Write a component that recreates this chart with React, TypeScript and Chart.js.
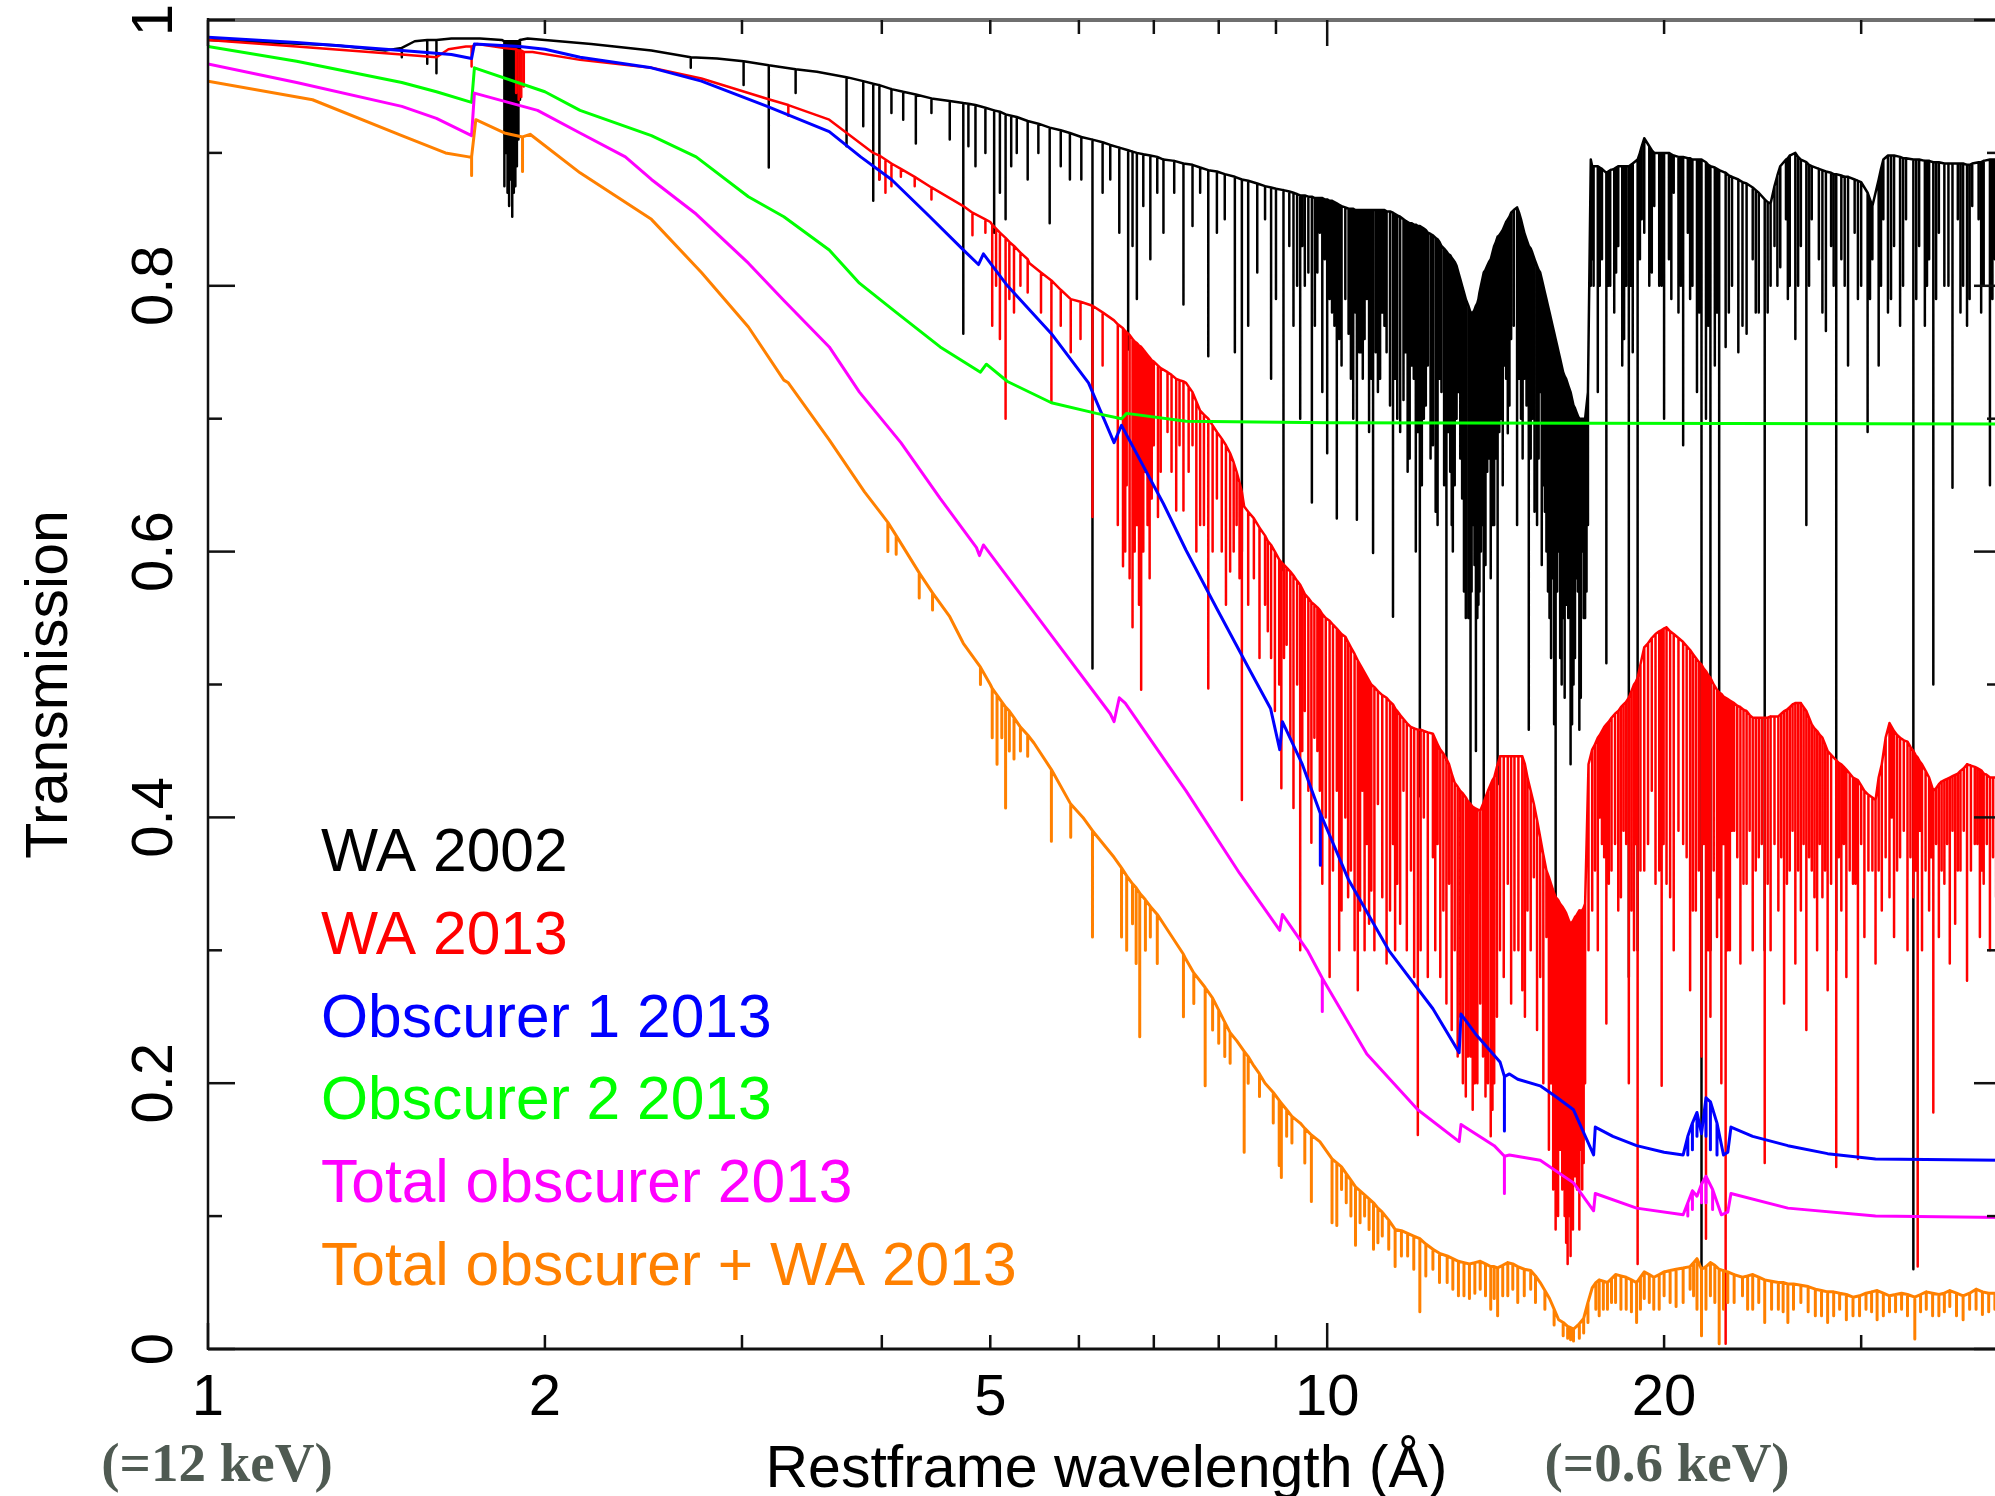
import React, { useEffect, useRef } from "react";
import { Chart, registerables } from "chart.js";

Chart.register(...registerables);

// ---- Axis ticks / labels ----
const xLabelTicks = [1, 2, 5, 10, 20];
const xMajorTicks = [1, 10];
const xMinorTicks = [2, 3, 4, 5, 6, 7, 8, 9, 20, 30, 40];
const yMajorTicks = [0, 0.2, 0.4, 0.6, 0.8, 1];
const yTickLabels = ["0", "0.2", "0.4", "0.6", "0.8", "1"];
const yMinorTicks = [0.1, 0.3, 0.5, 0.7, 0.9];
const xTitle = "Restframe wavelength (Å)";
const yTitle = "Transmission";
const leftNote = "(=12 keV)";
const rightNote = "(=0.6 keV)";
const rightNoteAt = 20;

const seriesNames = [
  "WA 2002",
  "WA 2013",
  "Obscurer 1 2013",
  "Obscurer 2 2013",
  "Total obscurer 2013",
  "Total obscurer + WA 2013",
];
const seriesColors = ["#000000", "#ff0000", "#0000ff", "#00ff00", "#ff00ff", "#ff8000"];
const seriesWidths = [2.5, 2.5, 3, 3, 3, 3];

// rows: [wavelength, transmission] or [wavelength, continuum, absorption-line bottom]
const wa2002 = [
  [1.0, 0.985], [1.3, 0.981], [1.44, 0.977], [1.49, 0.979, 0.972], [1.53, 0.984], [1.57, 0.985, 0.967],
  [1.6, 0.985, 0.96], [1.65, 0.986], [1.75, 0.986], [1.83, 0.985],
  [1.84, 0.984, 0.875], [1.846, 0.984, 0.9], [1.852, 0.984, 0.87], [1.858, 0.984, 0.86], [1.864, 0.984, 0.88],
  [1.87, 0.984, 0.852], [1.876, 0.984, 0.87], [1.882, 0.984, 0.875], [1.888, 0.984, 0.89], [1.894, 0.984, 0.91],
  [1.9, 0.985, 0.94], [1.93, 0.986], [2.0, 0.985], [2.2, 0.982], [2.49, 0.977], [2.7, 0.972, 0.964], [2.85, 0.971],
  [3.01, 0.969, 0.951], [3.17, 0.966, 0.889], [3.35, 0.963, 0.945], [3.5, 0.961], [3.72, 0.957, 0.905],
  [3.85, 0.954, 0.92], [3.93, 0.952, 0.864], [3.98, 0.951, 0.88], [4.08, 0.948, 0.93], [4.18, 0.946, 0.925],
  [4.29, 0.944, 0.907], [4.43, 0.941, 0.93], [4.6, 0.939, 0.91], [4.73, 0.9375, 0.764], [4.78, 0.937, 0.905],
  [4.85, 0.936, 0.89], [4.95, 0.934, 0.9], [5.04, 0.932, 0.84], [5.1, 0.931, 0.87], [5.16, 0.929, 0.85],
  [5.22, 0.928, 0.89], [5.28, 0.927, 0.9], [5.4, 0.924, 0.88], [5.52, 0.922, 0.9], [5.65, 0.919, 0.847],
  [5.78, 0.917, 0.89], [5.89, 0.915, 0.88], [6.03, 0.912, 0.88], [6.17, 0.91, 0.512], [6.3, 0.908, 0.87],
  [6.4, 0.906, 0.88], [6.52, 0.904, 0.84], [6.64, 0.902, 0.752], [6.7, 0.901, 0.83], [6.76, 0.9, 0.79],
  [6.85, 0.899, 0.86], [6.95, 0.898, 0.82], [7.05, 0.897, 0.87], [7.14, 0.895, 0.84], [7.3, 0.894, 0.87],
  [7.44, 0.892, 0.786], [7.58, 0.891, 0.845], [7.7, 0.889, 0.87], [7.83, 0.887, 0.747], [7.97, 0.886, 0.84],
  [8.1, 0.884, 0.85], [8.27, 0.882, 0.75], [8.39, 0.88, 0.6], [8.5, 0.879, 0.77], [8.66, 0.877, 0.81],
  [8.8, 0.875, 0.85], [8.91, 0.874, 0.73], [9.0, 0.873, 0.79], [9.14, 0.872, 0.586], [9.25, 0.871, 0.83],
  [9.33, 0.87, 0.77], [9.4, 0.869, 0.8],
  [9.46, 0.868, 0.7], [9.55, 0.868, 0.8], [9.69, 0.867, 0.637], [9.8, 0.866, 0.81], [9.9, 0.866, 0.72],
  [10.0, 0.865, 0.674], [10.1, 0.864, 0.78], [10.2, 0.862, 0.625], [10.3, 0.86, 0.74], [10.45, 0.858, 0.764],
  [10.55, 0.858, 0.7], [10.63, 0.857, 0.624], [10.72, 0.857, 0.75], [10.8, 0.857, 0.76], [10.9, 0.857, 0.69],
  [10.99, 0.857, 0.599], [11.1, 0.857, 0.72], [11.2, 0.857, 0.78], [11.3, 0.856, 0.75], [11.45, 0.855, 0.551],
  [11.55, 0.853, 0.7], [11.7, 0.85, 0.714], [11.8, 0.848, 0.66], [11.9, 0.847, 0.74], [12.0, 0.846, 0.6],
  [12.1, 0.845, 0.416], [12.2, 0.843, 0.7], [12.3, 0.84, 0.74], [12.43, 0.838, 0.68], [12.55, 0.835, 0.62],
  [12.65, 0.83, 0.72], [12.78, 0.826, 0.443], [12.88, 0.823, 0.66], [12.95, 0.82, 0.6], [13.05, 0.815, 0.7],
  [13.1, 0.81, 0.72], [13.2, 0.8, 0.64], [13.3, 0.79, 0.55], [13.43, 0.78, 0.343], [13.5, 0.78, 0.62],
  [13.58, 0.785, 0.45], [13.65, 0.79, 0.56], [13.72, 0.8, 0.6], [13.8, 0.81, 0.405], [13.9, 0.815, 0.66],
  [14.0, 0.82, 0.58], [14.1, 0.83, 0.62], [14.2, 0.837, 0.425], [14.3, 0.84, 0.7], [14.4, 0.845, 0.74],
  [14.5, 0.85, 0.689], [14.6, 0.855, 0.76], [14.78, 0.859, 0.62], [14.9, 0.85, 0.7], [15.0, 0.84, 0.73],
  [15.14, 0.83, 0.466], [15.25, 0.825, 0.7], [15.4, 0.815, 0.62], [15.5, 0.81, 0.72], [15.6, 0.8, 0.65],
  [15.7, 0.79, 0.6], [15.8, 0.78, 0.55], [15.9, 0.77, 0.58], [16.0, 0.76, 0.2], [16.1, 0.75, 0.6],
  [16.2, 0.74, 0.5], [16.25, 0.735, 0.55], [16.35, 0.73, 0.56], [16.5, 0.72, 0.44], [16.6, 0.71, 0.5],
  [16.7, 0.705, 0.58], [16.8, 0.7, 0.466], [16.9, 0.7, 0.6], [17.0, 0.7, 0.55], [17.1, 0.72, 0.62],
  [17.2, 0.895, 0.8], [17.3, 0.89, 0.8], [17.45, 0.89, 0.72], [17.6, 0.888, 0.82], [17.76, 0.885, 0.516],
  [17.9, 0.887, 0.8], [18.05, 0.888, 0.78], [18.2, 0.89, 0.83], [18.35, 0.89, 0.74], [18.5, 0.89, 0.8],
  [18.6, 0.89, 0.28], [18.75, 0.892, 0.75], [18.94, 0.895, 0.3], [19.1, 0.905, 0.85], [19.2, 0.911, 0.84],
  [19.4, 0.905, 0.8], [19.6, 0.9, 0.86], [19.8, 0.9, 0.8], [20.0, 0.9, 0.7], [20.2, 0.9, 0.82],
  [20.4, 0.898, 0.87], [20.6, 0.897, 0.78], [20.8, 0.897, 0.68], [21.0, 0.896, 0.84], [21.2, 0.895, 0.8],
  [21.4, 0.895, 0.72], [21.6, 0.895, 0.05], [21.8, 0.893, 0.7], [22.0, 0.89, 0.3], [22.2, 0.889, 0.74],
  [22.4, 0.887, 0.35], [22.7, 0.885, 0.754], [23.0, 0.882, 0.8], [23.3, 0.88, 0.75], [23.7, 0.877, 0.764],
  [24.0, 0.874, 0.82], [24.3, 0.87, 0.78], [24.6, 0.865, 0.3], [24.9, 0.862, 0.8], [25.1, 0.875, 0.83],
  [25.4, 0.89, 0.814], [25.7, 0.895, 0.85], [25.9, 0.898, 0.8], [26.2, 0.9, 0.76], [26.5, 0.895, 0.83],
  [26.8, 0.893, 0.62], [27.1, 0.89, 0.85], [27.5, 0.888, 0.82], [27.9, 0.886, 0.766], [28.2, 0.885, 0.83],
  [28.5, 0.884, 0.3], [28.8, 0.883, 0.82], [29.2, 0.882, 0.74], [29.6, 0.88, 0.84], [30.0, 0.878, 0.8],
  [30.4, 0.87, 0.69], [30.7, 0.86, 0.82], [31.1, 0.88, 0.74], [31.4, 0.895, 0.85], [31.7, 0.898, 0.78],
  [32.1, 0.898, 0.83], [32.5, 0.897, 0.77], [32.9, 0.896, 0.85], [33.4, 0.895, 0.06], [33.8, 0.895, 0.83],
  [34.2, 0.894, 0.77], [34.5, 0.894, 0.82], [34.8, 0.893, 0.5], [35.2, 0.893, 0.84], [35.6, 0.892, 0.8],
  [36.2, 0.892, 0.648], [36.6, 0.892, 0.85], [37.0, 0.892, 0.8], [37.3, 0.891, 0.77], [37.7, 0.892, 0.86],
  [38.2, 0.893, 0.85], [38.6, 0.894, 0.8], [39.1, 0.895, 0.65], [39.5, 0.895, 0.82], [40.0, 0.895],
];

// weaker WA 2002 lines filling the forest between the strong ones
const wa2002Weak = [
  [9.5, 0.868, 0.83], [9.62, 0.867, 0.81], [9.75, 0.866, 0.77], [9.85, 0.866, 0.84], [9.95, 0.865, 0.82],
  [10.05, 0.864, 0.79], [10.15, 0.863, 0.77], [10.25, 0.861, 0.76], [10.38, 0.859, 0.79], [10.5, 0.858, 0.73],
  [10.6, 0.857, 0.78], [10.68, 0.857, 0.75], [10.76, 0.857, 0.73], [10.85, 0.857, 0.79], [10.95, 0.857, 0.73],
  [11.05, 0.857, 0.75], [11.15, 0.857, 0.73], [11.25, 0.857, 0.77], [11.38, 0.856, 0.71], [11.5, 0.854, 0.73],
  [11.62, 0.852, 0.69], [11.75, 0.849, 0.75], [11.85, 0.847, 0.67], [11.95, 0.846, 0.73], [12.05, 0.845, 0.69],
  [12.15, 0.844, 0.65], [12.25, 0.842, 0.71], [12.37, 0.839, 0.67], [12.5, 0.836, 0.63], [12.6, 0.833, 0.73],
  [12.72, 0.828, 0.65], [12.83, 0.824, 0.69], [12.92, 0.821, 0.62], [13.0, 0.818, 0.65], [13.15, 0.805, 0.67],
  [13.25, 0.795, 0.57], [13.37, 0.785, 0.55], [13.46, 0.78, 0.57], [13.54, 0.782, 0.59], [13.62, 0.787, 0.55],
  [13.68, 0.795, 0.57], [13.76, 0.805, 0.62], [13.85, 0.812, 0.59], [13.95, 0.818, 0.67], [14.05, 0.825, 0.62],
  [14.15, 0.833, 0.67], [14.25, 0.838, 0.69], [14.35, 0.842, 0.65], [14.45, 0.848, 0.73], [14.55, 0.852, 0.71],
  [14.68, 0.857, 0.77], [14.84, 0.855, 0.73], [14.95, 0.845, 0.67], [15.07, 0.835, 0.71], [15.2, 0.828, 0.67],
  [15.32, 0.82, 0.63], [15.45, 0.812, 0.67], [15.55, 0.805, 0.59], [15.65, 0.795, 0.63], [15.75, 0.785, 0.57],
  [15.85, 0.775, 0.52], [15.95, 0.765, 0.47], [16.05, 0.755, 0.57], [16.15, 0.745, 0.52], [16.3, 0.732, 0.49],
  [16.42, 0.725, 0.55], [16.55, 0.715, 0.47], [16.65, 0.708, 0.52], [16.75, 0.702, 0.57], [16.85, 0.7, 0.49],
  [16.95, 0.7, 0.55], [17.05, 0.71, 0.57],
  [17.25, 0.89, 0.82], [17.52, 0.889, 0.8], [17.83, 0.886, 0.8], [18.12, 0.889, 0.81], [18.42, 0.89, 0.76],
  [18.68, 0.891, 0.8], [19.03, 0.9, 0.82], [19.5, 0.902, 0.81], [19.9, 0.9, 0.8], [20.3, 0.899, 0.79],
  [20.7, 0.897, 0.8], [21.1, 0.896, 0.79], [21.5, 0.895, 0.78], [21.9, 0.891, 0.77], [22.3, 0.888, 0.78],
  [22.85, 0.883, 0.78], [23.5, 0.878, 0.77], [24.15, 0.872, 0.78], [24.75, 0.863, 0.78], [25.25, 0.883, 0.8],
  [25.8, 0.896, 0.79], [26.35, 0.897, 0.8], [26.95, 0.891, 0.8], [27.7, 0.887, 0.78], [28.35, 0.884, 0.8],
  [29.0, 0.882, 0.8], [29.8, 0.879, 0.79], [30.55, 0.865, 0.79], [31.25, 0.888, 0.8], [31.9, 0.898, 0.79],
  [32.7, 0.896, 0.8], [33.6, 0.895, 0.79], [34.35, 0.894, 0.8], [35.0, 0.893, 0.79], [35.9, 0.892, 0.8],
  [36.8, 0.892, 0.78], [37.5, 0.891, 0.79], [38.4, 0.893, 0.78], [39.3, 0.895, 0.79],
];

const wa2013 = [
  [1.0, 0.985], [1.2, 0.98], [1.49, 0.974], [1.6, 0.972], [1.64, 0.978], [1.7, 0.98], [1.72, 0.98, 0.965],
  [1.74, 0.982], [1.84, 0.979], [1.885, 0.978, 0.945], [1.895, 0.977, 0.94], [1.905, 0.977, 0.942],
  [1.915, 0.976, 0.95], [1.95, 0.976], [2.15, 0.97], [2.49, 0.964], [2.76, 0.956], [3.18, 0.94],
  [3.3, 0.936, 0.928], [3.59, 0.925], [3.93, 0.9], [3.98, 0.898, 0.88], [4.03, 0.895, 0.87],
  [4.08, 0.892, 0.875], [4.16, 0.888, 0.882], [4.28, 0.882, 0.875], [4.43, 0.874, 0.865], [4.73, 0.86],
  [4.82, 0.855, 0.838], [4.95, 0.85, 0.84], [5.0, 0.848], [5.02, 0.846, 0.77], [5.06, 0.843, 0.8],
  [5.1, 0.84, 0.76], [5.16, 0.836, 0.7], [5.2, 0.833, 0.79], [5.25, 0.83, 0.78], [5.32, 0.825, 0.8],
  [5.4, 0.82, 0.795], [5.42, 0.817], [5.67, 0.804, 0.712], [5.9, 0.79, 0.75], [6.17, 0.785, 0.626],
  [6.45, 0.774], [6.57, 0.768, 0.589], [6.62, 0.765, 0.65], [6.7, 0.76, 0.543], [6.76, 0.757, 0.62],
  [6.82, 0.754, 0.496], [6.88, 0.75, 0.66], [6.94, 0.746, 0.58], [7.0, 0.743, 0.68], [7.06, 0.74, 0.626],
  [7.2, 0.735, 0.69], [7.33, 0.73, 0.631], [7.44, 0.728, 0.631], [7.48, 0.727], [7.58, 0.72, 0.68],
  [7.7, 0.706, 0.62], [7.83, 0.7, 0.497], [7.97, 0.69, 0.64], [8.19, 0.674, 0.585], [8.3, 0.66, 0.62],
  [8.39, 0.645, 0.413], [8.43, 0.634], [8.6, 0.625, 0.58], [8.8, 0.612, 0.56], [8.91, 0.605, 0.52],
  [9.06, 0.594, 0.5], [9.1, 0.592, 0.422], [9.2, 0.588, 0.53], [9.33, 0.582, 0.407], [9.46, 0.575, 0.3],
  [9.55, 0.568, 0.48], [9.68, 0.562, 0.381], [9.8, 0.558, 0.45], [9.9, 0.553, 0.35], [9.97, 0.55, 0.4],
  [10.05, 0.548, 0.28], [10.2, 0.542, 0.42], [10.3, 0.538, 0.33], [10.38, 0.536, 0.4], [10.5, 0.528, 0.36],
  [10.65, 0.518, 0.27], [10.75, 0.512, 0.42], [10.85, 0.506, 0.38], [10.95, 0.5, 0.345], [11.1, 0.495, 0.41],
  [11.3, 0.49, 0.29], [11.45, 0.485, 0.38], [11.55, 0.48, 0.35], [11.7, 0.474, 0.42], [11.88, 0.468, 0.36],
  [12.05, 0.466, 0.161], [12.2, 0.465, 0.4], [12.43, 0.463, 0.37], [12.55, 0.455, 0.38], [12.7, 0.448, 0.33],
  [12.85, 0.44, 0.35], [13.0, 0.426, 0.3], [13.15, 0.42, 0.25], [13.3, 0.415, 0.19], [13.43, 0.41, 0.22],
  [13.55, 0.407, 0.2], [13.7, 0.405, 0.26], [13.85, 0.415, 0.19], [14.0, 0.425, 0.16], [14.1, 0.43, 0.2],
  [14.27, 0.446, 0.3], [14.5, 0.446, 0.35], [14.7, 0.446, 0.3], [14.94, 0.446, 0.27], [15.1, 0.43, 0.33],
  [15.3, 0.41, 0.355], [15.5, 0.385, 0.28], [15.7, 0.36, 0.31], [15.85, 0.35, 0.2], [16.0, 0.34, 0.09],
  [16.15, 0.335, 0.15], [16.3, 0.33, 0.1], [16.4, 0.325, 0.064], [16.5, 0.32, 0.07], [16.65, 0.325, 0.13],
  [16.8, 0.33, 0.09], [16.9, 0.33, 0.12], [17.0, 0.335, 0.2], [17.25, 0.451, 0.33], [17.45, 0.46, 0.3],
  [17.6, 0.465, 0.38], [17.76, 0.47, 0.245], [17.95, 0.475, 0.36], [18.2, 0.48, 0.33], [18.4, 0.485, 0.39],
  [18.6, 0.49, 0.2], [18.8, 0.5, 0.3], [18.94, 0.505, 0.064], [19.2, 0.528, 0.36], [19.5, 0.535, 0.42],
  [19.8, 0.54, 0.36], [19.9, 0.541, 0.198], [20.1, 0.543, 0.35], [20.4, 0.538, 0.3], [20.8, 0.532, 0.38],
  [21.1, 0.526, 0.27], [21.35, 0.52, 0.33], [21.6, 0.515, 0.22], [21.8, 0.51, 0.083], [22.0, 0.505, 0.25],
  [22.3, 0.496, 0.31], [22.5, 0.493, 0.2], [22.7, 0.49, 0.004], [22.9, 0.488, 0.3], [23.1, 0.486, 0.39],
  [23.4, 0.483, 0.29], [23.7, 0.48, 0.35], [24.0, 0.475, 0.3], [24.3, 0.475, 0.37], [24.6, 0.475, 0.14],
  [24.9, 0.476, 0.3], [25.3, 0.476, 0.33], [25.6, 0.48, 0.26], [25.9, 0.483, 0.36], [26.2, 0.486, 0.29],
  [26.5, 0.486, 0.33], [26.8, 0.48, 0.24], [27.1, 0.47, 0.36], [27.4, 0.465, 0.3], [27.7, 0.46, 0.34],
  [28.0, 0.45, 0.27], [28.5, 0.443, 0.137], [28.8, 0.44, 0.33], [29.1, 0.436, 0.28], [29.5, 0.43, 0.35],
  [29.8, 0.428, 0.143], [30.2, 0.42, 0.31], [30.7, 0.415, 0.36], [30.9, 0.413, 0.29], [31.3, 0.44, 0.33],
  [31.8, 0.471, 0.34], [32.1, 0.465, 0.31], [32.5, 0.46, 0.37], [33.0, 0.457, 0.3], [33.4, 0.45, 0.34],
  [33.7, 0.445, 0.062], [34.0, 0.44, 0.3], [34.5, 0.43, 0.33], [34.8, 0.42, 0.178], [35.2, 0.425, 0.31],
  [35.6, 0.428, 0.35], [36.0, 0.43, 0.29], [36.4, 0.432, 0.32], [36.8, 0.435, 0.36], [37.3, 0.44, 0.277],
  [37.9, 0.438, 0.38], [38.3, 0.436, 0.31], [38.6, 0.433, 0.35], [39.1, 0.43, 0.3], [39.6, 0.43, 0.34],
  [40.0, 0.43],
];

// weaker WA 2013 lines
const wa2013Weak = [
  [5.55, 0.81, 0.78], [5.78, 0.797, 0.77], [6.02, 0.788, 0.76], [6.3, 0.78, 0.74], [6.5, 0.771, 0.62],
  [6.6, 0.766, 0.6], [6.66, 0.763, 0.58], [6.73, 0.758, 0.6], [6.79, 0.755, 0.56], [6.85, 0.752, 0.6],
  [6.91, 0.748, 0.62], [6.97, 0.744, 0.64], [7.1, 0.738, 0.66], [7.26, 0.733, 0.66], [7.38, 0.729, 0.68],
  [7.52, 0.724, 0.66], [7.64, 0.713, 0.6], [7.76, 0.703, 0.62], [7.9, 0.695, 0.6], [8.05, 0.685, 0.6],
  [8.12, 0.68, 0.56], [8.25, 0.667, 0.6], [8.35, 0.652, 0.58], [8.5, 0.63, 0.56], [8.7, 0.618, 0.52],
  [8.85, 0.608, 0.54], [8.98, 0.6, 0.48], [9.15, 0.59, 0.52], [9.27, 0.585, 0.46], [9.4, 0.578, 0.5],
  [9.5, 0.572, 0.45], [9.62, 0.565, 0.42], [9.74, 0.56, 0.46], [9.85, 0.556, 0.42],
  [10.12, 0.545, 0.36], [10.25, 0.54, 0.3], [10.44, 0.532, 0.34], [10.58, 0.523, 0.3], [10.7, 0.515, 0.33],
  [10.8, 0.509, 0.3], [10.9, 0.503, 0.32], [11.02, 0.498, 0.3], [11.2, 0.492, 0.34], [11.38, 0.487, 0.33],
  [11.5, 0.482, 0.3], [11.62, 0.477, 0.32], [11.78, 0.471, 0.3], [11.96, 0.467, 0.28], [12.12, 0.466, 0.3],
  [12.3, 0.464, 0.28], [12.49, 0.459, 0.3], [12.62, 0.451, 0.28], [12.78, 0.444, 0.26], [12.92, 0.433, 0.24],
  [13.08, 0.423, 0.22], [13.22, 0.418, 0.2], [13.36, 0.412, 0.22], [13.49, 0.408, 0.18], [13.62, 0.406, 0.2],
  [13.78, 0.41, 0.22], [13.92, 0.42, 0.2], [14.05, 0.428, 0.18], [14.18, 0.438, 0.25], [14.38, 0.446, 0.28],
  [14.6, 0.446, 0.26], [14.82, 0.446, 0.3], [15.02, 0.44, 0.25], [15.2, 0.42, 0.3], [15.4, 0.398, 0.24],
  [15.6, 0.372, 0.2], [15.78, 0.355, 0.15], [15.92, 0.345, 0.12], [16.08, 0.338, 0.1], [16.22, 0.333, 0.12],
  [16.35, 0.328, 0.08], [16.45, 0.322, 0.1], [16.58, 0.322, 0.09], [16.72, 0.327, 0.12], [16.85, 0.33, 0.15],
  [16.95, 0.332, 0.14], [17.12, 0.44, 0.3],
  [17.35, 0.455, 0.36], [17.52, 0.462, 0.4], [17.68, 0.468, 0.37], [17.85, 0.472, 0.35], [18.08, 0.478, 0.38],
  [18.3, 0.483, 0.34], [18.5, 0.487, 0.38], [18.7, 0.495, 0.33], [18.87, 0.502, 0.38], [19.05, 0.515, 0.36],
  [19.35, 0.531, 0.38], [19.65, 0.538, 0.35], [19.98, 0.542, 0.38], [20.25, 0.54, 0.34], [20.6, 0.535, 0.39],
  [20.95, 0.529, 0.37], [21.22, 0.523, 0.33], [21.48, 0.517, 0.36], [21.7, 0.512, 0.38], [21.9, 0.507, 0.3],
  [22.15, 0.5, 0.36], [22.4, 0.494, 0.34], [22.6, 0.491, 0.38], [22.8, 0.489, 0.3], [23.0, 0.487, 0.39],
  [23.25, 0.484, 0.37], [23.55, 0.481, 0.35], [23.85, 0.477, 0.39], [24.15, 0.475, 0.36], [24.45, 0.475, 0.38],
  [24.75, 0.475, 0.35], [25.1, 0.476, 0.38], [25.45, 0.478, 0.37], [25.75, 0.481, 0.35], [26.05, 0.485, 0.39],
  [26.35, 0.486, 0.36], [26.65, 0.483, 0.38], [26.95, 0.475, 0.37], [27.25, 0.467, 0.34], [27.55, 0.462, 0.38],
  [27.85, 0.455, 0.36], [28.2, 0.447, 0.35], [28.65, 0.441, 0.37], [28.95, 0.438, 0.38], [29.3, 0.433, 0.36],
  [29.65, 0.429, 0.35], [30.0, 0.424, 0.38], [30.45, 0.417, 0.36], [31.1, 0.43, 0.36], [31.55, 0.46, 0.37],
  [31.95, 0.468, 0.4], [32.3, 0.462, 0.36], [32.75, 0.458, 0.39], [33.2, 0.453, 0.37], [33.55, 0.447, 0.36],
  [33.85, 0.442, 0.39], [34.25, 0.435, 0.36], [34.65, 0.425, 0.37], [35.0, 0.422, 0.38], [35.4, 0.427, 0.36],
  [35.8, 0.429, 0.38], [36.2, 0.431, 0.39], [36.6, 0.433, 0.36], [37.05, 0.437, 0.39], [37.6, 0.439, 0.36],
  [38.1, 0.437, 0.38], [38.45, 0.435, 0.36], [38.85, 0.432, 0.38], [39.35, 0.43, 0.37], [39.8, 0.43, 0.38],
];

const obscurer1 = [
  [1.0, 0.987], [1.2, 0.983], [1.49, 0.977], [1.65, 0.974], [1.72, 0.971], [1.73, 0.982], [1.9, 0.98],
  [2.0, 0.978], [2.15, 0.972], [2.49, 0.964], [2.76, 0.954], [3.16, 0.935], [3.59, 0.916], [3.83, 0.897],
  [4.08, 0.88], [4.39, 0.854], [4.73, 0.827], [4.88, 0.816], [4.93, 0.824], [5.18, 0.8], [5.67, 0.764],
  [6.12, 0.727], [6.45, 0.682], [6.55, 0.695], [7.14, 0.636], [7.48, 0.601], [7.97, 0.557], [8.5, 0.513],
  [8.9, 0.482], [9.07, 0.451], [9.12, 0.472], [9.5, 0.44], [9.86, 0.403, 0.364], [10.45, 0.353],
  [11.35, 0.3], [12.43, 0.256], [13.12, 0.223], [13.17, 0.252], [13.6, 0.236], [14.27, 0.216],
  [14.4, 0.205, 0.164], [14.55, 0.207], [14.8, 0.203], [15.5, 0.198], [16.0, 0.19], [16.6, 0.18],
  [17.3, 0.146], [17.36, 0.167], [18.0, 0.16], [18.9, 0.153], [20.0, 0.148], [20.8, 0.146],
  [21.0, 0.16, 0.146], [21.2, 0.17, 0.15], [21.4, 0.178, 0.16], [21.6, 0.162], [21.8, 0.189, 0.16],
  [22.0, 0.186, 0.15], [22.3, 0.17, 0.146], [22.6, 0.146], [22.8, 0.148], [22.95, 0.167], [24.0, 0.16],
  [25.8, 0.153], [28.0, 0.147], [30.9, 0.143], [40.0, 0.142],
];

const obscurer2 = [
  [1.0, 0.98], [1.2, 0.969], [1.49, 0.953], [1.6, 0.946], [1.72, 0.938], [1.73, 0.964], [2.0, 0.946],
  [2.15, 0.932], [2.49, 0.913], [2.73, 0.897], [3.04, 0.867], [3.27, 0.852], [3.59, 0.827], [3.82, 0.802],
  [4.12, 0.78], [4.51, 0.754], [4.9, 0.735], [4.96, 0.741], [5.18, 0.728], [5.67, 0.712], [6.22, 0.704],
  [6.55, 0.7], [6.62, 0.704], [7.48, 0.698], [10.0, 0.697], [40.0, 0.696],
];

const totalObscurer = [
  [1.0, 0.967], [1.2, 0.953], [1.49, 0.935], [1.6, 0.926], [1.72, 0.913], [1.73, 0.945], [1.97, 0.932],
  [2.15, 0.915], [2.36, 0.897], [2.49, 0.88], [2.73, 0.854], [3.04, 0.817], [3.27, 0.789], [3.59, 0.754],
  [3.82, 0.72], [4.16, 0.682], [4.51, 0.64], [4.86, 0.603], [4.89, 0.597], [4.93, 0.605], [5.68, 0.536],
  [6.4, 0.478], [6.45, 0.472], [6.52, 0.49], [6.6, 0.486], [7.48, 0.42], [8.35, 0.358], [9.07, 0.315],
  [9.12, 0.327], [9.6, 0.3], [9.9, 0.279, 0.254], [10.85, 0.222], [12.05, 0.18], [13.12, 0.156],
  [13.17, 0.169], [14.1, 0.153], [14.4, 0.145, 0.117], [14.55, 0.146], [15.5, 0.142], [16.6, 0.125],
  [17.3, 0.104], [17.36, 0.117], [18.9, 0.106], [20.8, 0.101], [21.0, 0.11, 0.1], [21.2, 0.119, 0.105],
  [21.4, 0.115], [21.6, 0.124, 0.11], [21.8, 0.13, 0.11], [22.1, 0.12, 0.105], [22.5, 0.101], [22.8, 0.103],
  [22.95, 0.117], [25.8, 0.106], [30.9, 0.1], [40.0, 0.099],
];

const totalObscurerWA = [
  [1.0, 0.954], [1.24, 0.94], [1.49, 0.913], [1.63, 0.9], [1.71, 0.897], [1.72, 0.897, 0.883], [1.735, 0.925],
  [1.84, 0.915], [1.91, 0.912, 0.886], [1.94, 0.914], [2.15, 0.885], [2.49, 0.85], [2.76, 0.81], [3.04, 0.769],
  [3.27, 0.729], [3.3, 0.727], [3.59, 0.684], [3.86, 0.645], [4.0, 0.628], [4.05, 0.622, 0.6],
  [4.12, 0.612, 0.598], [4.32, 0.584, 0.565], [4.44, 0.569, 0.556], [4.6, 0.551], [4.73, 0.531],
  [4.9, 0.513, 0.5], [5.0, 0.5], [5.02, 0.497, 0.46], [5.07, 0.492, 0.44], [5.12, 0.487, 0.46],
  [5.16, 0.483, 0.407], [5.2, 0.48, 0.45], [5.25, 0.475, 0.444], [5.32, 0.468, 0.45], [5.4, 0.462, 0.446],
  [5.47, 0.456], [5.67, 0.436, 0.382], [5.9, 0.41, 0.385], [6.05, 0.4], [6.17, 0.39, 0.31], [6.45, 0.37],
  [6.55, 0.362, 0.31], [6.62, 0.356, 0.3], [6.7, 0.35, 0.32], [6.75, 0.347, 0.29], [6.8, 0.343, 0.235],
  [6.88, 0.338, 0.3], [6.95, 0.333, 0.31], [7.05, 0.327, 0.29], [7.14, 0.32], [7.44, 0.297, 0.25],
  [7.48, 0.293], [7.6, 0.283, 0.26], [7.78, 0.272, 0.198], [7.9, 0.264, 0.24], [8.0, 0.255, 0.23],
  [8.1, 0.246, 0.22], [8.19, 0.238, 0.215], [8.3, 0.232], [8.43, 0.224, 0.148], [8.5, 0.22, 0.2],
  [8.6, 0.213], [8.7, 0.207, 0.19], [8.8, 0.2], [8.95, 0.193, 0.17], [9.06, 0.187, 0.138], [9.1, 0.185, 0.129],
  [9.2, 0.18, 0.16], [9.3, 0.175, 0.155], [9.46, 0.17], [9.55, 0.166, 0.14], [9.68, 0.161, 0.111], [9.85, 0.156],
  [10.1, 0.143, 0.095], [10.2, 0.14, 0.093], [10.3, 0.137, 0.12], [10.4, 0.132, 0.11], [10.5, 0.127, 0.1],
  [10.6, 0.122, 0.078], [10.7, 0.119, 0.095], [10.8, 0.116, 0.1], [10.9, 0.113, 0.09], [11.0, 0.11, 0.075],
  [11.1, 0.106, 0.08], [11.2, 0.103, 0.085], [11.35, 0.097, 0.075], [11.5, 0.09, 0.062], [11.65, 0.089, 0.07],
  [11.8, 0.087, 0.07], [11.95, 0.085, 0.06], [12.1, 0.083, 0.028], [12.25, 0.079, 0.055], [12.43, 0.075, 0.06],
  [12.6, 0.072, 0.05], [12.8, 0.07, 0.05], [12.95, 0.068, 0.045], [13.1, 0.066, 0.04], [13.25, 0.065, 0.04],
  [13.4, 0.064, 0.038], [13.55, 0.065, 0.042], [13.7, 0.066, 0.045], [13.85, 0.064, 0.04], [14.0, 0.062, 0.03],
  [14.1, 0.062, 0.038], [14.2, 0.061, 0.025], [14.35, 0.063, 0.04], [14.5, 0.065, 0.04], [14.65, 0.064, 0.045],
  [14.8, 0.062, 0.035], [15.0, 0.06, 0.04], [15.2, 0.059, 0.045], [15.35, 0.055, 0.035], [15.5, 0.05],
  [15.65, 0.044, 0.03], [15.8, 0.038], [15.95, 0.03, 0.018], [16.1, 0.022], [16.25, 0.02, 0.01],
  [16.4, 0.017, 0.008], [16.5, 0.016, 0.007], [16.6, 0.015, 0.006], [16.8, 0.019, 0.008], [16.95, 0.023, 0.012],
  [17.1, 0.035, 0.02], [17.25, 0.046], [17.38, 0.05, 0.03], [17.5, 0.052, 0.025], [17.65, 0.051, 0.03],
  [17.8, 0.05, 0.03], [17.95, 0.053, 0.035], [18.1, 0.056, 0.035], [18.3, 0.055, 0.03], [18.5, 0.054, 0.03],
  [18.7, 0.052, 0.028], [18.9, 0.05, 0.02], [19.05, 0.054, 0.03], [19.2, 0.058, 0.038], [19.4, 0.056, 0.035],
  [19.58, 0.054, 0.03], [19.8, 0.056, 0.03], [20.0, 0.058, 0.04], [20.25, 0.059, 0.035], [20.5, 0.06, 0.032],
  [20.8, 0.061, 0.035], [21.1, 0.062, 0.045], [21.25, 0.065, 0.04], [21.4, 0.068, 0.03], [21.6, 0.06, 0.01],
  [21.8, 0.062, 0.03], [22.0, 0.065, 0.04], [22.2, 0.063, 0.035], [22.4, 0.06, 0.004], [22.6, 0.059, 0.03],
  [22.8, 0.058, 0.035], [23.1, 0.056, 0.035], [23.5, 0.054, 0.04], [23.75, 0.055, 0.03], [24.0, 0.056, 0.03],
  [24.3, 0.054, 0.035], [24.6, 0.052, 0.02], [24.95, 0.051, 0.03], [25.3, 0.05, 0.03], [25.55, 0.05, 0.028],
  [25.8, 0.049, 0.02], [26.1, 0.049, 0.03], [26.5, 0.048, 0.035], [26.9, 0.047, 0.028], [27.3, 0.045, 0.025],
  [27.65, 0.044, 0.025], [28.0, 0.043, 0.02], [28.35, 0.043, 0.025], [28.7, 0.042, 0.03], [29.1, 0.041, 0.022],
  [29.5, 0.039, 0.025], [29.9, 0.04, 0.025], [30.3, 0.042, 0.03], [30.65, 0.043, 0.028], [31.0, 0.044, 0.022],
  [31.4, 0.042, 0.025], [31.8, 0.04, 0.028], [32.2, 0.041, 0.028], [32.6, 0.042, 0.03], [33.0, 0.041, 0.025],
  [33.5, 0.039, 0.0075], [33.9, 0.041, 0.028], [34.3, 0.043, 0.03], [34.75, 0.042, 0.025], [35.2, 0.041, 0.025],
  [35.6, 0.042, 0.028], [36.0, 0.044, 0.032], [36.5, 0.042, 0.025], [37.0, 0.04, 0.022], [37.5, 0.042, 0.03],
  [38.0, 0.045, 0.03], [38.5, 0.043, 0.026], [39.0, 0.042, 0.028], [39.5, 0.042, 0.03], [40.0, 0.041],
];

const seriesRows = [
  [...wa2002, ...wa2002Weak],
  [...wa2013, ...wa2013Weak],
  obscurer1,
  obscurer2,
  totalObscurer,
  totalObscurerWA,
];

function toPoints(rows: number[][]) {
  const sorted = [...rows].sort((p, q) => p[0] - q[0]);
  const pts: { x: number; y: number }[] = [];
  for (const r of sorted) {
    pts.push({ x: r[0], y: r[1] });
    if (r.length > 2) {
      pts.push({ x: r[0], y: r[2] });
      pts.push({ x: r[0], y: r[1] });
    }
  }
  return pts;
}

const SANS = '"Liberation Sans", Arial, Helvetica, sans-serif';

const framePlugin = {
  id: "framePlugin",
  afterDraw(chart: any) {
    const { ctx, chartArea: a, scales } = chart;
    const xs = scales.x;
    const ys = scales.y;
    const seg = (x1: number, y1: number, x2: number, y2: number) => {
      ctx.beginPath();
      ctx.moveTo(x1, y1);
      ctx.lineTo(x2, y2);
      ctx.stroke();
    };
    ctx.save();
    ctx.lineCap = "butt";
    ctx.strokeStyle = "#6f6f6f";
    ctx.lineWidth = 4;
    seg(a.left, a.top, a.right, a.top);
    ctx.strokeStyle = "#111";
    ctx.lineWidth = 2.5;
    seg(a.left, a.top - 2, a.left, a.bottom + 1);
    seg(a.right, a.top, a.right, a.bottom);
    ctx.lineWidth = 3;
    seg(a.left, a.bottom, a.right, a.bottom);
    ctx.lineWidth = 2.5;
    for (const v of yMajorTicks) {
      const p = ys.getPixelForValue(v);
      seg(a.left, p, a.left + 27, p);
      seg(a.right - 27, p, a.right, p);
    }
    for (const v of yMinorTicks) {
      const p = ys.getPixelForValue(v);
      seg(a.left, p, a.left + 14, p);
      seg(a.right - 14, p, a.right, p);
    }
    for (const v of xMajorTicks) {
      const p = xs.getPixelForValue(v);
      seg(p, a.bottom, p, a.bottom - 26);
      seg(p, a.top, p, a.top + 26);
    }
    for (const v of xMinorTicks) {
      const p = xs.getPixelForValue(v);
      seg(p, a.bottom, p, a.bottom - 14);
      seg(p, a.top, p, a.top + 14);
    }
    ctx.fillStyle = "#000";
    ctx.font = `58px ${SANS}`;
    ctx.textAlign = "center";
    ctx.textBaseline = "alphabetic";
    for (const v of xLabelTicks) {
      ctx.fillText(String(v), xs.getPixelForValue(v), a.bottom + 66);
    }
    yMajorTicks.forEach((v, i) => {
      ctx.save();
      ctx.translate(a.left - 36, ys.getPixelForValue(v));
      ctx.rotate(-Math.PI / 2);
      ctx.fillText(yTickLabels[i], 0, 0);
      ctx.restore();
    });
    ctx.font = `59px ${SANS}`;
    ctx.fillText(xTitle, (a.left + a.right) / 2 + 2, a.bottom + 138);
    ctx.save();
    ctx.translate(a.left - 141, (a.top + a.bottom) / 2);
    ctx.rotate(-Math.PI / 2);
    ctx.fillText(yTitle, 0, 0);
    ctx.restore();
    ctx.font = `60.5px ${SANS}`;
    ctx.textAlign = "left";
    seriesNames.forEach((name, i) => {
      ctx.fillStyle = seriesColors[i];
      ctx.fillText(name, a.left + 113, 871 + i * 82.8);
    });
    ctx.fillStyle = "#4f5a52";
    ctx.font = 'bold 55px "Liberation Serif", "Times New Roman", serif';
    ctx.textAlign = "center";
    ctx.fillText(leftNote, xs.getPixelForValue(1) + 9, a.bottom + 132);
    ctx.fillText(rightNote, xs.getPixelForValue(rightNoteAt) + 3, a.bottom + 132);
    ctx.restore();
  },
};

export default function App() {
  const ref = useRef<HTMLCanvasElement | null>(null);
  useEffect(() => {
    if (!ref.current) return;
    const orders = [6, 5, 4, 3, 2, 1];
    const chart = new Chart(ref.current, {
      type: "line",
      data: {
        datasets: seriesRows.map((rows, i) => ({
          label: seriesNames[i],
          data: toPoints(rows),
          borderColor: seriesColors[i],
          backgroundColor: seriesColors[i],
          borderWidth: seriesWidths[i],
          pointRadius: 0,
          tension: 0,
          fill: false,
          borderJoinStyle: "round" as const,
          borderCapStyle: "round" as const,
          order: orders[i],
        })),
      },
      options: {
        responsive: false,
        animation: false,
        devicePixelRatio: 1,
        layout: { padding: { left: 0, top: 20, right: 9, bottom: 0 } },
        plugins: { legend: { display: false }, tooltip: { enabled: false } },
        events: [],
        scales: {
          x: {
            type: "logarithmic",
            min: 1,
            max: 40,
            ticks: { display: false },
            grid: { display: false },
            border: { display: false },
            afterFit: (s: any) => {
              s.height = 147;
            },
          },
          y: {
            type: "linear",
            min: 0,
            max: 1,
            ticks: { display: false },
            grid: { display: false },
            border: { display: false },
            afterFit: (s: any) => {
              s.width = 208;
            },
          },
        },
      } as any,
      plugins: [framePlugin],
    });
    return () => chart.destroy();
  }, []);
  return (
    <div
      style={{
        position: "fixed",
        left: 0,
        top: 0,
        width: 1995,
        height: 1496,
        overflow: "hidden",
        background: "#fff",
      }}
    >
      <canvas ref={ref} width={2010} height={1496} style={{ display: "block" }} />
    </div>
  );
}
